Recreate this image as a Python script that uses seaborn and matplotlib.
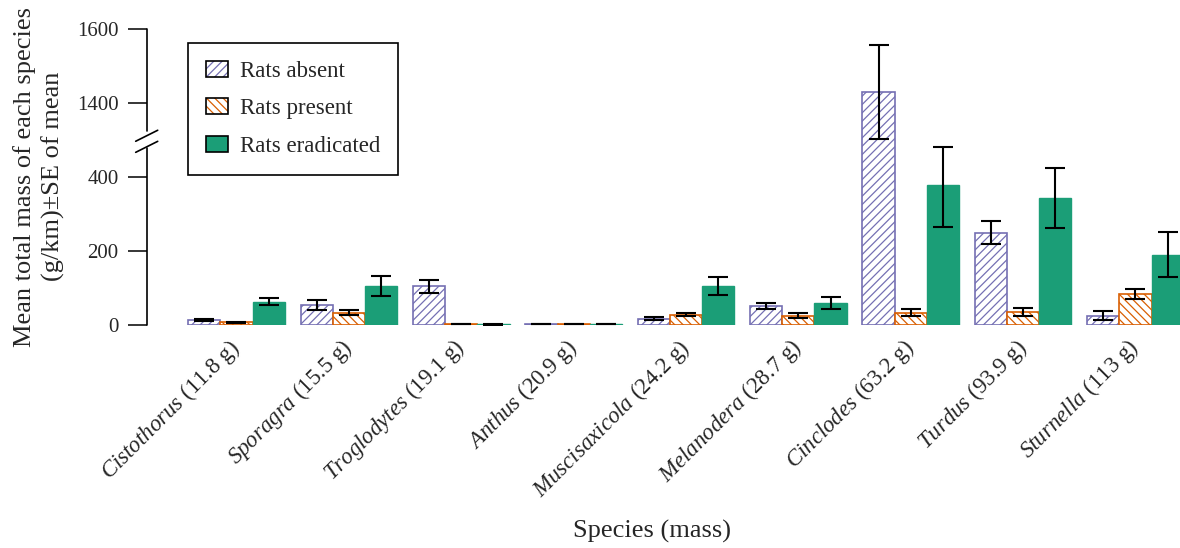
import numpy as np
import pandas as pd
import matplotlib
matplotlib.use("Agg")
import matplotlib.pyplot as plt
import seaborn as sns
from matplotlib.patches import Patch
from matplotlib.legend_handler import HandlerTuple

# ---------------- data ----------------
species = ["Cistothorus", "Sporagra", "Troglodytes", "Anthus", "Muscisaxicola",
           "Melanodera", "Cinclodes", "Turdus", "Sturnella"]
masses = ["11.8 g", "15.5 g", "19.1 g", "20.9 g", "24.2 g", "28.7 g",
          "63.2 g", "93.9 g", "113 g"]
treatments = ["Rats absent", "Rats present", "Rats eradicated"]
absent_mean = [12, 52, 103, 1, 16, 50, 1430, 248, 24]
absent_se = [3, 13, 18, 0.5, 5, 9, 127, 31, 12]
present_mean = [6, 32, 1, 1, 27, 24, 32, 35, 83]
present_se = [2, 7, 0.5, 0.5, 5, 7, 10, 11, 14]
erad_mean = [62, 104, 1, 1, 104, 58, 378, 343, 189]
erad_se = [9, 28, 1, 0.5, 25, 16, 115, 82, 61]
y_ticks = [0, 200, 400, 1400, 1600]

means = {"Rats absent": absent_mean, "Rats present": present_mean,
         "Rats eradicated": erad_mean}
ses = {"Rats absent": absent_se, "Rats present": present_se,
       "Rats eradicated": erad_se}

rows = []
for t in treatments:
    for s, v in zip(species, means[t]):
        rows.append({"species": s, "treatment": t, "value": v})
df = pd.DataFrame(rows)

# ---------------- style ----------------
sns.set_style("white")
plt.rcParams["font.family"] = ["Liberation Serif", "DejaVu Serif"]
plt.rcParams["mathtext.fontset"] = "custom"
plt.rcParams["mathtext.rm"] = "Liberation Serif"
plt.rcParams["mathtext.it"] = "Liberation Serif:italic"
plt.rcParams["hatch.linewidth"] = 0.9

purple, orange, green = "#7570b3", "#d95f02", "#1b9e77"
palette = {"Rats absent": purple, "Rats present": orange, "Rats eradicated": green}
hatches = {"Rats absent": "////", "Rats present": "\\\\\\\\", "Rats eradicated": ""}

fig = plt.figure(figsize=(11.8, 5.48), dpi=100)
ax = fig.add_axes([146.7 / 1180, 1 - 324.5 / 548, 1 - 146.7 / 1180, 295.5 / 548])

sns.barplot(data=df, x="species", y="value", hue="treatment", hue_order=treatments,
            order=species, palette=palette, width=0.86, errorbar=None,
            saturation=1, legend=False, ax=ax)

# broken y scale: upper block shifted down by 800
def fwd(v):
    v = np.asarray(v, float)
    return np.where(v <= 480, v, np.where(v >= 1290, v - 800, 480 + (v - 480) * (10 / 810)))

def inv(t):
    t = np.asarray(t, float)
    return np.where(t <= 480, t, np.where(t >= 490, t + 800, 480 + (t - 480) * 81))

ax.set_yscale("function", functions=(fwd, inv))
ax.set_ylim(0, 1600)
ax.set_xlim(-0.799, 8.396)

for t, cont in zip(treatments, ax.containers):
    col = palette[t]
    xs = []
    for p in cont:
        if t == "Rats eradicated":
            p.set_facecolor(col)
            p.set_edgecolor(col)
            p.set_linewidth(1.0)
        else:
            p.set_facecolor("white")
            p.set_edgecolor(col)
            p.set_hatch(hatches[t])
            p.set_linewidth(1.2)
        xs.append(p.get_x() + p.get_width() / 2)
    ax.errorbar(xs, means[t], yerr=ses[t], fmt="none", ecolor="black",
                elinewidth=1.5, capsize=7.5, capthick=1.5, zorder=5)

# axes styling
for sp in ["top", "right", "bottom", "left"]:
    ax.spines[sp].set_visible(False)
ytr = ax.get_yaxis_transform()
ax.plot([0, 0], [0, 478], transform=ytr, color="black", lw=1.2, clip_on=False)
ax.plot([0, 0], [1325, 1600], transform=ytr, color="black", lw=1.2, clip_on=False)
dx, dy = 11 / 1033.3, 5.5 / 295.5
for yc in (511 / 800, 481 / 800):
    ax.plot([-dx, dx], [yc - dy, yc + dy], transform=ax.transAxes, color="black",
            lw=1.2, clip_on=False)

ax.set_yticks(y_ticks)
ax.set_yticklabels([str(v) for v in y_ticks])
ax.tick_params(axis="y", length=13.7, width=1.1, pad=6.5, labelsize=15,
               left=True, color="black")
ax.set_xticks(range(len(species)))
ax.set_xticklabels([rf"$\mathit{{{s}}}$ ({m})" for s, m in zip(species, masses)],
                   rotation=45, ha="right", va="center", rotation_mode="anchor",
                   fontsize=16.5)
ax.tick_params(axis="x", length=0, pad=14)

ax.set_xlabel("Species (mass)", fontsize=19, va="center")
ax.xaxis.set_label_coords(0.489, -0.70)
ax.set_ylabel("Mean total mass of each species\n(g/km)\u00b1SE of mean", fontsize=19,
              va="center", linespacing=1.3)
ax.yaxis.set_label_coords(-0.104, 0.5)

# legend
handles = []
for t in treatments:
    if t == "Rats eradicated":
        h = (Patch(facecolor=green, edgecolor="black", lw=1.2),)
    else:
        h = (Patch(facecolor="white", edgecolor=palette[t], hatch=hatches[t], lw=0),
             Patch(facecolor="none", edgecolor="black", lw=1.2))
    handles.append(h)
leg = ax.legend(handles, treatments, handler_map={tuple: HandlerTuple(ndivide=1)},
                loc="upper left", bbox_to_anchor=(0.040, 0.9526), borderaxespad=0,
                fontsize=16.5, frameon=True, fancybox=False, framealpha=1,
                edgecolor="black", handlelength=0.95, handleheight=0.7,
                handletextpad=0.5, labelspacing=0.7, borderpad=0.8)
leg.get_frame().set_linewidth(1.2)

fig.savefig("out.png", dpi=100)
